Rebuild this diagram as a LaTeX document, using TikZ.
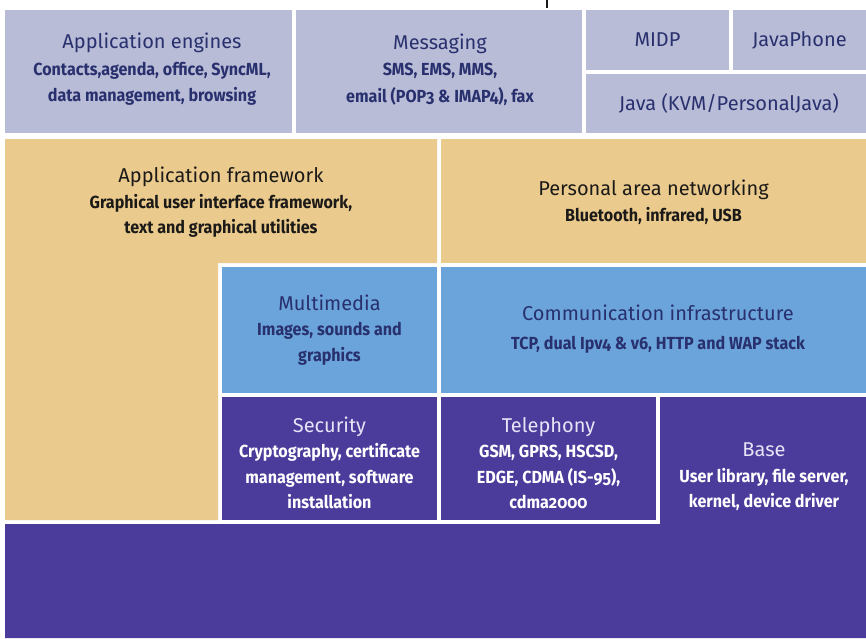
\documentclass[tikz,border=0pt]{standalone}
\usepackage{fontspec}
\setmainfont{Fira Sans}[Numbers=OldStyle]
\newfontfamily\narrowfont{Fira Sans}[Numbers=OldStyle,FakeStretch=0.92]
\usepackage{xcolor}
\definecolor{TopLavender}{HTML}{B9BCD7}
\definecolor{FrameTan}{HTML}{EBCB8D}
\definecolor{MediaBlue}{HTML}{6BA4DB}
\definecolor{BasePurple}{HTML}{4B3C9C}
\definecolor{NavyText}{HTML}{28306E}
\definecolor{InkText}{HTML}{1C1A18}
\definecolor{PaleText}{HTML}{E6E4F6}
\usetikzlibrary{positioning}

% layer heading, plain weight and full width
\newcommand{\ttl}[1]{{\rmfamily\mdseries\fontsize{20}{25.5}\selectfont #1}}

\tikzset{
	layertext/.style={align=center,inner sep=0pt,outer sep=0pt,
		font=\narrowfont\bfseries\fontsize{17.5}{25.5}\selectfont},
	toptext/.style={layertext,text=NavyText,
		font=\narrowfont\bfseries\fontsize{17.5}{26.5}\selectfont},
	tantext/.style={layertext,text=InkText},
	bluetext/.style={layertext,text=NavyText},
	purpletext/.style={layertext,text=white}
}

\begin{document}
\begin{tikzpicture}[x=1pt,y=-1pt]
	\useasboundingbox (0,0) rectangle (866,638);
	
	% application engines row
	\fill[TopLavender] (5,10) rectangle (292,133);
	\fill[TopLavender] (296,10) rectangle (582,133);
	\fill[TopLavender] (586,10) rectangle (729,70);
	\fill[TopLavender] (733,10) rectangle (866,70);
	\fill[TopLavender] (586,74) rectangle (866,133);
	\draw[InkText,line width=1.2pt] (547,0) -- (547,8);
	
	\node[toptext] (engines) at (152,69.5) {\ttl{Application engines}\\ Contacts,agenda, office, SyncML,\\ data management, browsing};
	\node[toptext] (messaging) at (440,69.5) {\ttl{Messaging}\\ SMS, EMS, MMS,\\ email (POP3 \& IMAP4), fax};
	\node[toptext] (midp) at (657.5,40) {\ttl{MIDP}};
	\node[toptext] (javaphone) at (799.5,40) {\ttl{JavaPhone}};
	\node[toptext] (java) at (729,103.5) {\ttl{Java (KVM/PersonalJava)}};
	
	% framework and networking
	\fill[FrameTan] (5,139) -- (437,139) -- (437,263) -- (218,263) -- (218,520) -- (5,520) -- cycle;
	\fill[FrameTan] (441,139) rectangle (866,263);
	
	\node[tantext] (framework) at (221,202.5) {\ttl{Application framework}\\ Graphical user interface framework,\\ text and graphical utilities};
	\node[tantext] (pan) at (653.5,202) {\ttl{Personal area networking}\\ Bluetooth, infrared, USB};
	
	% multimedia and communication
	\fill[MediaBlue] (222,267) rectangle (437,393);
	\fill[MediaBlue] (441,267) rectangle (866,393);
	
	\node[bluetext] (multimedia) at (329.5,330) {\ttl{Multimedia}\\ Images, sounds and\\ graphics};
	\node[bluetext] (comms) at (658,329) {\ttl{Communication infrastructure}\\[3pt] TCP, dual Ipv4 \& v6, HTTP and WAP stack};
	
	% security, telephony and base
	\fill[BasePurple] (222,397) rectangle (437,520);
	\fill[BasePurple] (441,397) rectangle (656,520);
	\fill[BasePurple] (660,397) -- (866,397) -- (866,638) -- (5,638) -- (5,524) -- (660,524) -- cycle;
	
	\node[purpletext] (security) at (329.5,463) {\textcolor{PaleText}{\ttl{Security}}\\ Cryptography, certificate\\ management, software\\ installation};
	\node[purpletext] (telephony) at (548.5,463) {\textcolor{PaleText}{\ttl{Telephony}}\\ GSM, GPRS, HSCSD,\\ EDGE, CDMA (IS-95),\\ cdma2000};
	\node[purpletext] (base) at (764,477) {\textcolor{PaleText}{\ttl{Base}}\\ User library, file server,\\ kernel, device driver};
\end{tikzpicture}
\end{document}
